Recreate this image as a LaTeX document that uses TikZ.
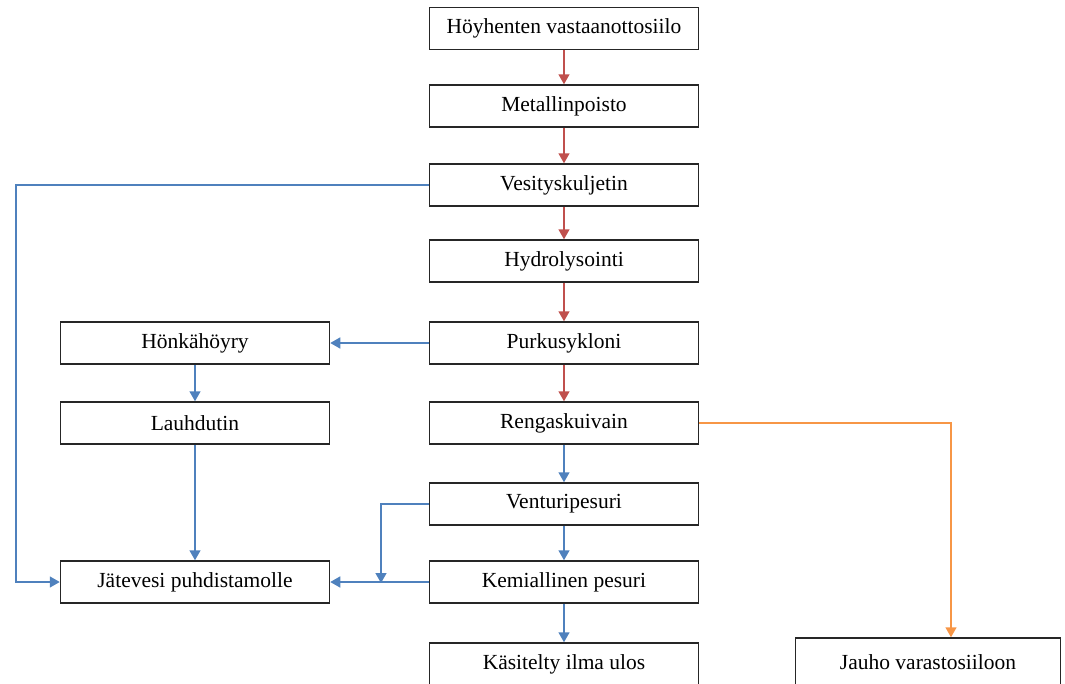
\documentclass[tikz,border=0pt]{standalone}
\usepackage{fontspec}
\setmainfont{Liberation Serif}
\usetikzlibrary{arrows.meta}
\definecolor{flowred}{RGB}{192,80,77}
\definecolor{flowblue}{RGB}{79,129,189}
\definecolor{floworange}{RGB}{247,150,70}
\begin{document}
\begin{tikzpicture}[x=1pt,y=-1pt,
  box/.style={draw=black!85,line width=1.5pt,minimum width=269pt,minimum height=42pt,
    inner sep=0pt,font=\fontsize{21.5}{24}\selectfont,text=black},
  tip/.style={-{Triangle[width=11pt,length=10pt]}},
  redflow/.style={tip,draw=flowred,line width=1.5pt},
  blueflow/.style={tip,draw=flowblue,line width=1.5pt},
  orangeflow/.style={tip,draw=floworange,line width=1.5pt}]
\useasboundingbox (0,0) rectangle (1065,683);
\begin{scope}
\clip (0,0) rectangle (1065,683);
% main column
\node[box] (silo)  at (564,28.5) {Höyhenten vastaanottosiilo};
\node[box] (metal) at (564,106)  {Metallinpoisto};
\node[box] (vesi)  at (564,185)  {Vesityskuljetin};
\node[box] (hydro) at (564,261)  {Hydrolysointi};
\node[box] (purku) at (564,343)  {Purkusykloni};
\node[box] (renga) at (564,423)  {Rengaskuivain};
\node[box] (ventu) at (564,504)  {Venturipesuri};
\node[box] (kemia) at (564,582)  {Kemiallinen pesuri};
\node[box] (ilma)  at (564,664)  {Käsitelty ilma ulos};
% left column
\node[box] (honka) at (195,343)  {Hönkähöyry};
\node[box] (lauhd) at (195,423)  {Lauhdutin};
\node[box] (jatev) at (195,582)  {Jätevesi puhdistamolle};
% right
\node[box,minimum width=265pt,minimum height=48pt] (jauho) at (928,662) {Jauho varastosiiloon};

\coordinate (wl) at (16,0);
\coordinate (vx) at (381,0);
\coordinate (ox) at (951,0);

% feather line
\draw[redflow] (silo) -- (metal);
\draw[redflow] (metal) -- (vesi);
\draw[redflow] (vesi) -- (hydro);
\draw[redflow] (hydro) -- (purku);
\draw[redflow] (purku) -- (renga);
% air line
\draw[blueflow] (renga) -- (ventu);
\draw[blueflow] (ventu) -- (kemia);
\draw[blueflow] (kemia) -- (ilma);
\draw[blueflow] (purku) -- (honka);
\draw[blueflow] (honka) -- (lauhd);
\draw[blueflow] (lauhd) -- (jatev);
% waste water
\draw[blueflow] (vesi.west) -- (wl |- vesi.west) -- (wl |- jatev.west) -- (jatev.west);
\draw[blueflow] (kemia.west) -- (jatev.east);
\draw[blueflow] (ventu.west) -- (vx |- ventu.west) -- ([yshift=-1pt]vx |- kemia.west);
% meal
\draw[orangeflow] (renga.east) -- (ox |- renga.east) -- (ox |- jauho.north);
\end{scope}
\end{tikzpicture}
\end{document}
